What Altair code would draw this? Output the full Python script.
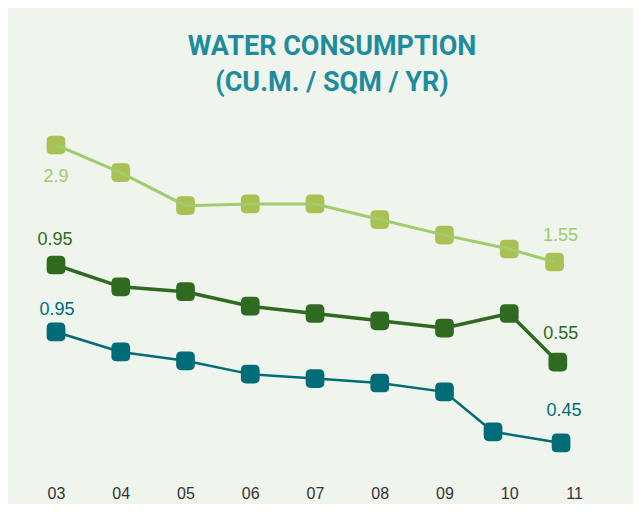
import altair as alt
import pandas as pd

# ---- data ----
tick_years = [3, 4, 5, 6, 7, 8, 9, 10, 11]

top_x = [3, 4, 5, 6, 7, 8, 9, 10, 10.7]
top_v = [2.9, 2.58, 2.2, 2.22, 2.22, 2.04, 1.86, 1.7, 1.55]

mid_x = [3, 4, 5, 6, 7, 8, 9, 10, 10.75]
mid_v = [0.95, 0.86, 0.84, 0.78, 0.75, 0.72, 0.69, 0.75, 0.55]

bot_x = [3, 4, 5, 6, 7, 8, 9, 9.75, 10.8]
bot_v = [0.95, 0.86, 0.82, 0.76, 0.74, 0.72, 0.68, 0.5, 0.45]

# each series drawn on its own (hidden) value scale, as in the original graphic
top_domain = [-0.942, 3.419]
mid_domain = [0.072, 1.630]
bot_domain = [0.292, 1.995]

BG = "#eff5ec"
ROUND_SQ = ("M -0.45 -1 L 0.45 -1 Q 1 -1 1 -0.45 L 1 0.45 Q 1 1 0.45 1 "
            "L -0.45 1 Q -1 1 -1 0.45 L -1 -0.45 Q -1 -1 -0.45 -1 Z")

x_axis = alt.Axis(values=tick_years,
                  labelExpr="datum.value < 10 ? '0' + datum.value : '' + datum.value",
                  domain=False, ticks=False, grid=False, title=None,
                  labelFontSize=16, labelColor="#333333", labelFont="Liberation Sans",
                  labelPadding=7, labelFlush=False)
x_scale = alt.Scale(domain=[3, 11], nice=False, zero=False)


def series(xs, vs, domain, line_color, point_color, stroke_w, label_color,
           first_dx, first_dy, last_dx, last_dy, line_on_top=False):
    df = pd.DataFrame({"x": xs, "v": vs})
    df["lab"] = [f"{v:g}" for v in vs]
    n = len(df)
    df["idx"] = range(n)
    base = alt.Chart(df).encode(
        x=alt.X("x:Q", scale=x_scale, axis=x_axis),
        y=alt.Y("v:Q", scale=alt.Scale(domain=domain, nice=False, zero=False), axis=None),
    )
    line = base.mark_line(color=line_color, strokeWidth=stroke_w)
    pts = base.mark_point(shape=ROUND_SQ, filled=True, opacity=1, size=350,
                          color=point_color)
    t_first = base.mark_text(fontSize=18, font="Liberation Sans", color=label_color,
                             dx=first_dx, dy=first_dy).encode(text="lab:N").transform_filter(
        "datum.idx == 0")
    t_last = base.mark_text(fontSize=18, font="Liberation Sans", color=label_color,
                            dx=last_dx, dy=last_dy).encode(text="lab:N").transform_filter(
        f"datum.idx == {n - 1}")
    layers = [pts, line] if line_on_top else [line, pts]
    return alt.layer(*layers, t_first, t_last)


top = series(top_x, top_v, top_domain, "#9fcc6c", "#a9c152", 3, "#9fcc6c",
             0, 32, 6, -26, line_on_top=True)
mid = series(mid_x, mid_v, mid_domain, "#2f6a21", "#2f6a21", 3.5, "#2f6a21",
             -1, -25, 3, -28)
bot = series(bot_x, bot_v, bot_domain, "#006c77", "#006c77", 2.5, "#006c77",
             1, -22, 3, -32)

chart = alt.layer(top, mid, bot).resolve_scale(y="independent").properties(
    width=518,
    height=378,
    autosize=alt.AutoSizeParams(type="none"),
    padding={"left": 48, "right": 59, "top": 92, "bottom": 26},
    background=BG,
    title=alt.TitleParams(
        text=["WATER CONSUMPTION", "(CU.M. / SQM / YR)"],
        font="Roboto",
        fontWeight="bold", fontSize=27,
        color="#1f8c9e", lineHeight=36, anchor="middle", dx=17, offset=3,
    ),
).configure_view(stroke=None)

chart.save("out.html", embed_options={"renderer": "svg", "actions": False})
